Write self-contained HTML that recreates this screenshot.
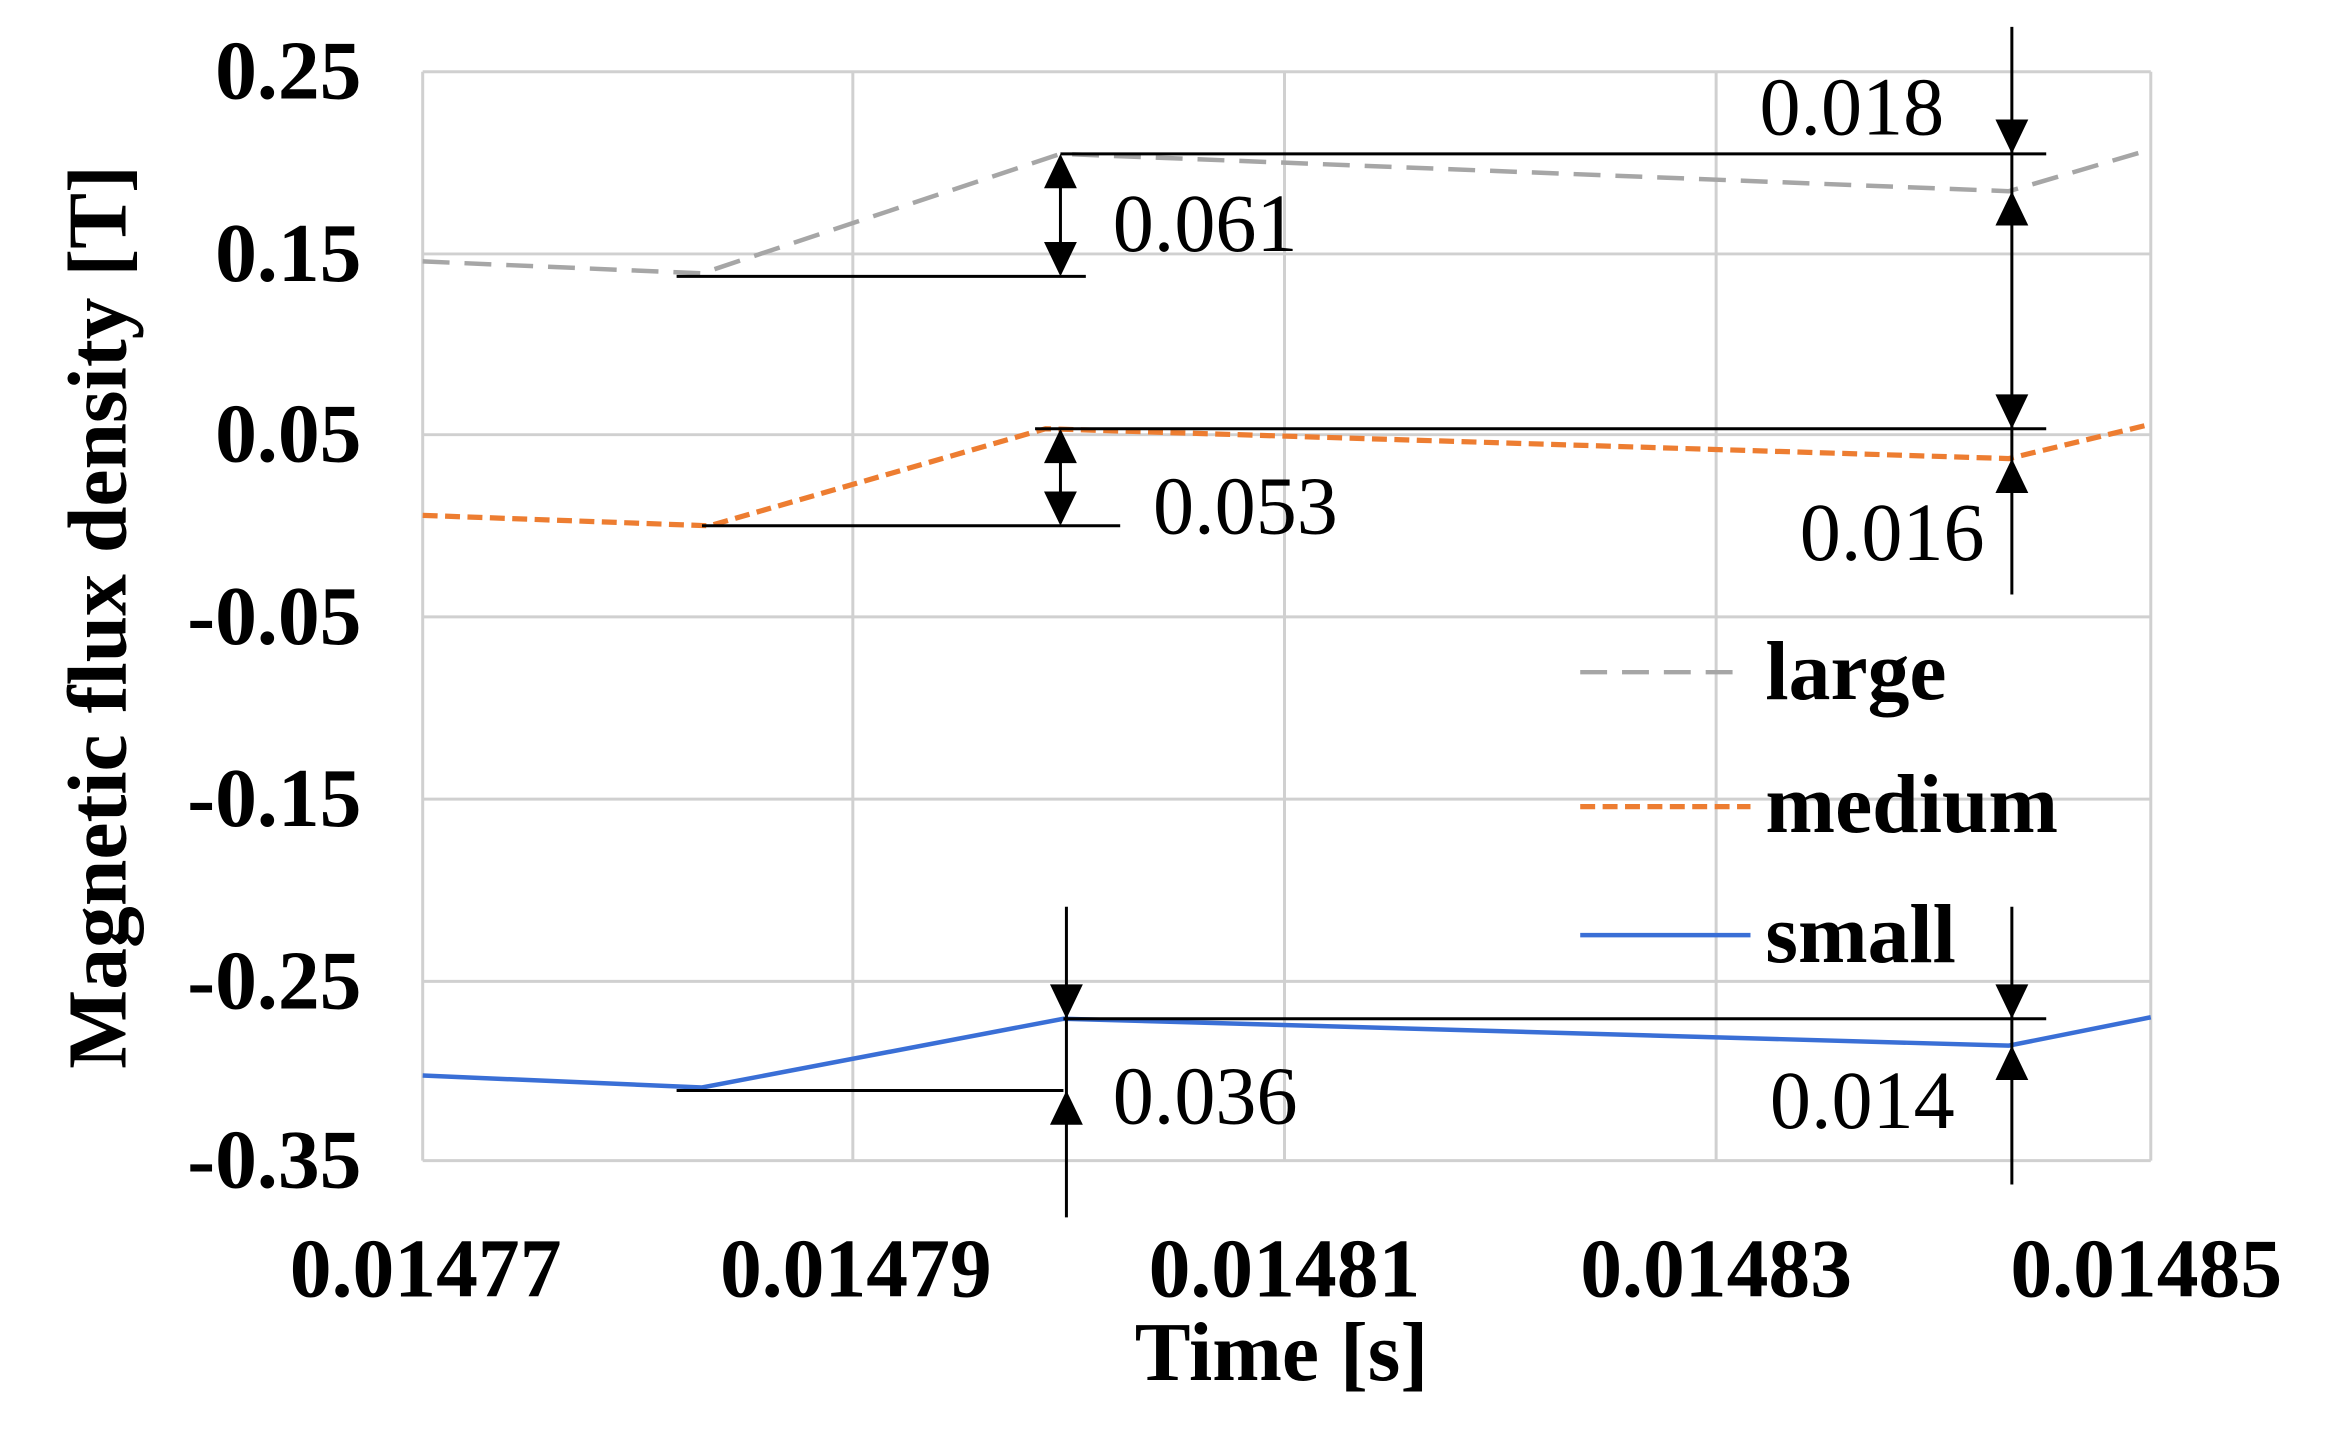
<!DOCTYPE html>
<html><head><style>html,body{margin:0;padding:0;background:#fff;}svg{display:block}</style></head>
<body>
<svg width="2330" height="1437" viewBox="0 0 1560 962" preserveAspectRatio="none" xmlns="http://www.w3.org/2000/svg" font-family="Liberation Serif, serif">
<g stroke="#d0d0d0" stroke-width="2" fill="none">
<line x1="283" y1="48" x2="1440" y2="48"/>
<line x1="283" y1="170" x2="1440" y2="170"/>
<line x1="283" y1="291" x2="1440" y2="291"/>
<line x1="283" y1="413" x2="1440" y2="413"/>
<line x1="283" y1="535" x2="1440" y2="535"/>
<line x1="283" y1="657" x2="1440" y2="657"/>
<line x1="283" y1="777" x2="1440" y2="777"/>
<line x1="283" y1="48" x2="283" y2="777"/>
<line x1="571" y1="48" x2="571" y2="777"/>
<line x1="860" y1="48" x2="860" y2="777"/>
<line x1="1149" y1="48" x2="1149" y2="777"/>
<line x1="1440" y1="48" x2="1440" y2="777"/>
</g>
<polyline points="283,175 470,183 710,103 1345,128 1440,100" fill="none" stroke="#a6a6a6" stroke-width="3" stroke-dasharray="18,10"/>
<polyline points="283,345 475,352 700,287 1345,307 1440,284" fill="none" stroke="#ed7d31" stroke-width="3.5" stroke-dasharray="10,5"/>
<polyline points="283,720 470,728 712,682 1345,700 1440,681" fill="none" stroke="#3a6fd6" stroke-width="3"/>
<g stroke="#000" stroke-width="2" fill="none">
<line x1="710" y1="103" x2="1370" y2="103"/>
<line x1="453" y1="185" x2="727" y2="185"/>
<line x1="693" y1="287" x2="1370" y2="287"/>
<line x1="470" y1="352" x2="750" y2="352"/>
<line x1="712" y1="682" x2="1370" y2="682"/>
<line x1="453" y1="730" x2="712" y2="730"/>
<line x1="710" y1="105" x2="710" y2="183"/>
<line x1="710" y1="289" x2="710" y2="350"/>
<line x1="1347" y1="18" x2="1347" y2="398"/>
<line x1="714" y1="607" x2="714" y2="815"/>
<line x1="1347" y1="607" x2="1347" y2="793"/>
</g>
<g fill="#000">
<polygon points="699,162 721,162 710,185"/>
<polygon points="699,329 721,329 710,352"/>
<polygon points="1336,80 1358,80 1347,103"/>
<polygon points="1336,264 1358,264 1347,287"/>
<polygon points="703,659 725,659 714,682"/>
<polygon points="1336,659 1358,659 1347,682"/>
<polygon points="699,126 721,126 710,103"/>
<polygon points="699,310 721,310 710,287"/>
<polygon points="1336,151 1358,151 1347,128"/>
<polygon points="1336,330 1358,330 1347,307"/>
<polygon points="703,753 725,753 714,730"/>
<polygon points="1336,723 1358,723 1347,700"/>
</g>
<g font-size="55" fill="#000">
<text x="745" y="168">0.061</text>
<text x="1178" y="90">0.018</text>
<text x="772" y="357">0.053</text>
<text x="1205" y="375">0.016</text>
<text x="745" y="752">0.036</text>
<text x="1185" y="755">0.014</text>
</g>
<line x1="1058" y1="450" x2="1170" y2="450" stroke="#a6a6a6" stroke-width="3" stroke-dasharray="18,10"/>
<line x1="1058" y1="540" x2="1172" y2="540" stroke="#ed7d31" stroke-width="3.5" stroke-dasharray="10,5"/>
<line x1="1058" y1="626" x2="1172" y2="626" stroke="#3a6fd6" stroke-width="3"/>
<g font-size="56" font-weight="bold" fill="#000">
<text x="1182" y="468">large</text>
<text x="1182" y="557">medium</text>
<text x="1182" y="644">small</text>
</g>
<g font-size="56" font-weight="bold" fill="#000" text-anchor="end">
<text x="242" y="66">0.25</text>
<text x="242" y="188">0.15</text>
<text x="242" y="309">0.05</text>
<text x="242" y="431">-0.05</text>
<text x="242" y="553">-0.15</text>
<text x="242" y="675">-0.25</text>
<text x="242" y="795">-0.35</text>
</g>
<g font-size="56" font-weight="bold" fill="#000" text-anchor="middle">
<text x="285" y="868">0.01477</text>
<text x="573" y="868">0.01479</text>
<text x="860" y="868">0.01481</text>
<text x="1149" y="868">0.01483</text>
<text x="1437" y="868">0.01485</text>
<text x="858" y="924">Time [s]</text>
<text transform="translate(84,413) rotate(-90)">Magnetic flux density [T]</text>
</g>
</svg>
</body></html>
